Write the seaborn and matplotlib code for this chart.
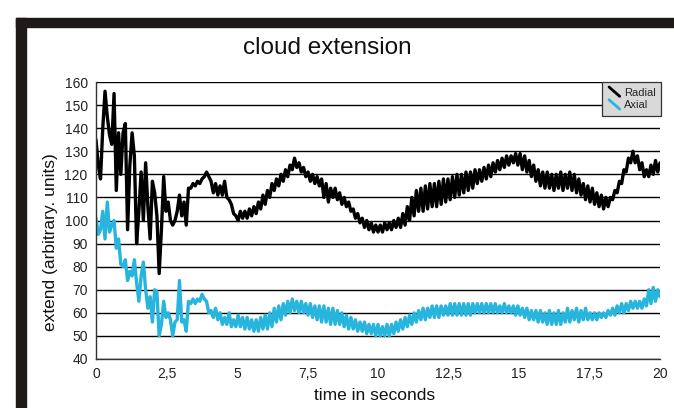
import numpy as np
import pandas as pd
import matplotlib
matplotlib.use("Agg")
import matplotlib.pyplot as plt
import seaborn as sns
from matplotlib.legend_handler import HandlerBase
from matplotlib.lines import Line2D
from matplotlib.patches import Rectangle

# ---------------- data ----------------
dt = 0.08
radial = [
    135, 124, 118, 140, 156, 145, 137, 133, 155, 113,
    138, 120, 138, 142, 96, 124, 138, 128, 90, 104,
    121, 100, 125, 106, 92, 117, 112, 102, 77, 96,
    119, 104, 108, 100, 98, 100, 104, 111, 102, 108,
    98, 114, 114, 116, 115, 117, 116, 118, 119, 121,
    119, 117, 112, 116, 111, 115, 111, 117, 110, 109,
    107, 103, 102,
    100, 104, 101, 104, 101, 105, 102, 106, 103, 108,
    105, 111, 107, 113, 110, 116, 113, 118, 115, 120,
    117, 122, 119, 124, 122, 127, 123, 125, 121, 123,
    119, 121, 117, 120, 116, 119, 115, 118, 110, 116,
    108, 114, 110, 114, 109, 112, 107, 110, 106, 108,
    104, 105, 101, 103, 99, 101, 97, 100, 96, 99,
    95, 98, 95, 98, 95, 99, 96, 99, 96, 100,
    97, 101, 97, 103, 98, 106, 100, 110, 102, 113,
    104, 114, 104, 115, 105, 116, 106, 116, 106, 117,
    107, 118, 108, 118, 109, 119, 110, 120, 111, 120,
    112, 121, 113, 121, 114, 122, 116, 122, 117, 123,
    118, 124, 119, 125, 121, 126, 122, 127, 123, 128,
    124, 128, 125, 129, 124, 129, 122, 128, 121, 126,
    119, 124, 117, 122, 115, 121, 114, 121, 114, 120,
    113, 120, 114, 121, 113, 120, 114, 121, 113, 120,
    112, 118, 111, 116, 109, 115, 108, 114, 107, 112,
    106, 111, 105, 110, 106, 110, 109, 113, 112, 117,
    116, 122, 121, 127, 125, 130, 125, 128, 122, 125,
    119, 122, 119, 124, 120, 126, 121, 125,
]
axial = [
    101, 94, 96, 104, 92, 108, 95, 98, 100, 88,
    92, 81, 80, 83, 74, 78, 76, 83, 73, 65,
    76, 82, 70, 62, 67, 56, 70, 69, 50, 55,
    65, 58, 60, 57, 50, 56, 57, 74, 56, 57,
    52, 65, 64, 66, 64, 66, 65, 68, 66, 65,
    60, 61, 58, 62, 57, 60, 55, 58, 55, 60,
    54, 57, 54,
    59, 54, 58, 53, 58, 53, 57, 52, 57, 52,
    58, 53, 59, 53, 60, 54, 62, 56, 63, 57,
    64, 59, 65, 60, 66, 61, 65, 60, 65, 60,
    64, 59, 64, 58, 63, 57, 63, 56, 63, 56,
    62, 55, 62, 55, 61, 55, 60, 54, 59, 53,
    58, 53, 57, 52, 56, 52, 56, 51, 55, 51,
    55, 50, 55, 50, 54, 50, 55, 50, 55, 51,
    56, 52, 57, 53, 58, 54, 59, 55, 60, 56,
    61, 57, 62, 57, 62, 58, 63, 58, 63, 58,
    63, 59, 63, 59, 64, 59, 64, 59, 64, 59,
    64, 59, 64, 59, 64, 60, 64, 60, 64, 60,
    64, 60, 64, 60, 64, 60, 63, 60, 64, 60,
    63, 60, 63, 59, 63, 59, 62, 58, 62, 57,
    61, 57, 61, 56, 61, 56, 60, 55, 61, 55,
    60, 55, 61, 55, 60, 56, 62, 56, 61, 57,
    62, 56, 61, 57, 62, 57, 60, 57, 60, 57,
    60, 58, 60, 58, 61, 59, 62, 59, 63, 60,
    64, 60, 64, 61, 65, 62, 65, 62, 65, 62,
    66, 63, 70, 64, 71, 65, 70, 67,
]
series_names = ["Radial", "Axial"]
x_ticks = [0, 2.5, 5, 7.5, 10, 12.5, 15, 17.5, 20]
x_ticklabels = ["0", "2,5", "5", "7,5", "10", "12,5", "15", "17,5", "20"]
y_ticks = list(range(40, 161, 10))

time = np.arange(len(radial)) * dt
df = pd.concat([
    pd.DataFrame({"t": time, "v": radial, "series": "Radial"}),
    pd.DataFrame({"t": time[:len(axial)], "v": axial, "series": "Axial"}),
])

# ---------------- style ----------------
sns.set_style("white")
plt.rcParams["font.family"] = ["Liberation Sans", "DejaVu Sans"]

W, H = 674, 408
fig = plt.figure(figsize=(W / 100, H / 100), dpi=100)
ax = fig.add_axes([96 / W, 1 - 359 / H, (660 - 96) / W, (359 - 82) / H])

colors = {"Radial": "#000000", "Axial": "#27b5de"}
sns.lineplot(data=df, x="t", y="v", hue="series", hue_order=series_names,
             palette=colors, estimator=None, sort=False, legend=False,
             linewidth=2.4, ax=ax)

ax.set_xlim(0, 20)
ax.set_ylim(40, 160)
ax.set_xticks(x_ticks)
ax.set_xticklabels(x_ticklabels)
ax.set_yticks(y_ticks)
ax.set_xlabel("")
ax.set_ylabel("")
ax.yaxis.grid(True, color="black", linewidth=1.0)
ax.xaxis.grid(False)
ax.set_axisbelow(True)
for s in ["top", "right"]:
    ax.spines[s].set_visible(False)
for s in ["left", "bottom"]:
    ax.spines[s].set_color("#333333")
    ax.spines[s].set_linewidth(1.0)
ax.tick_params(axis="both", direction="out", length=4, width=1,
               color="#333333", labelsize=10, labelcolor="#222222", pad=2)


class DiagHandler(HandlerBase):
    def create_artists(self, legend, orig_handle, xdescent, ydescent,
                       width, height, fontsize, trans):
        x0, y0 = -xdescent, -ydescent
        ln = Line2D([x0 + 0.1 * width, x0 + 0.9 * width],
                    [y0 + 1.1 * height, y0 - 0.1 * height],
                    color=orig_handle.get_color(), linewidth=2.0,
                    transform=trans)
        return [ln]


handles = [Line2D([], [], color=colors[n]) for n in series_names]
leg = ax.legend(handles, series_names, loc="upper right",
                bbox_to_anchor=(1.002, 1.0), borderaxespad=0,
                fontsize=8, frameon=True, fancybox=False,
                handlelength=1.2, handletextpad=0.25, borderpad=0.5,
                labelspacing=0.25,
                handler_map={Line2D: DiagHandler()})
leg.get_frame().set_facecolor("#d9d9d9")
leg.get_frame().set_edgecolor("#333333")
leg.get_frame().set_linewidth(0.9)
leg.get_frame().set_alpha(1)

# texts
fig.text(327 / W, 1 - 48 / H, "cloud extension", ha="center", va="center",
         fontsize=17.5, color="#111111")
fig.text(375 / W, 1 - 396 / H, "time in seconds", ha="center", va="center",
         fontsize=12.5, color="#111111")
fig.text(51 / W, 1 - 242 / H, "extend (arbitrary. units)", ha="center",
         va="center", rotation=90, fontsize=12.5, color="#111111")

# outer dark frame (top and left bands)
frame_col = "#1e1a17"
fig.patches.append(Rectangle((16 / W, 1 - 27 / H), 1 - 16 / W, 9 / H,
                             transform=fig.transFigure, color=frame_col,
                             zorder=0))
fig.patches.append(Rectangle((16 / W, 0), 10 / W, 1 - 18 / H,
                             transform=fig.transFigure, color=frame_col,
                             zorder=0))

fig.savefig("out.png", dpi=100)
